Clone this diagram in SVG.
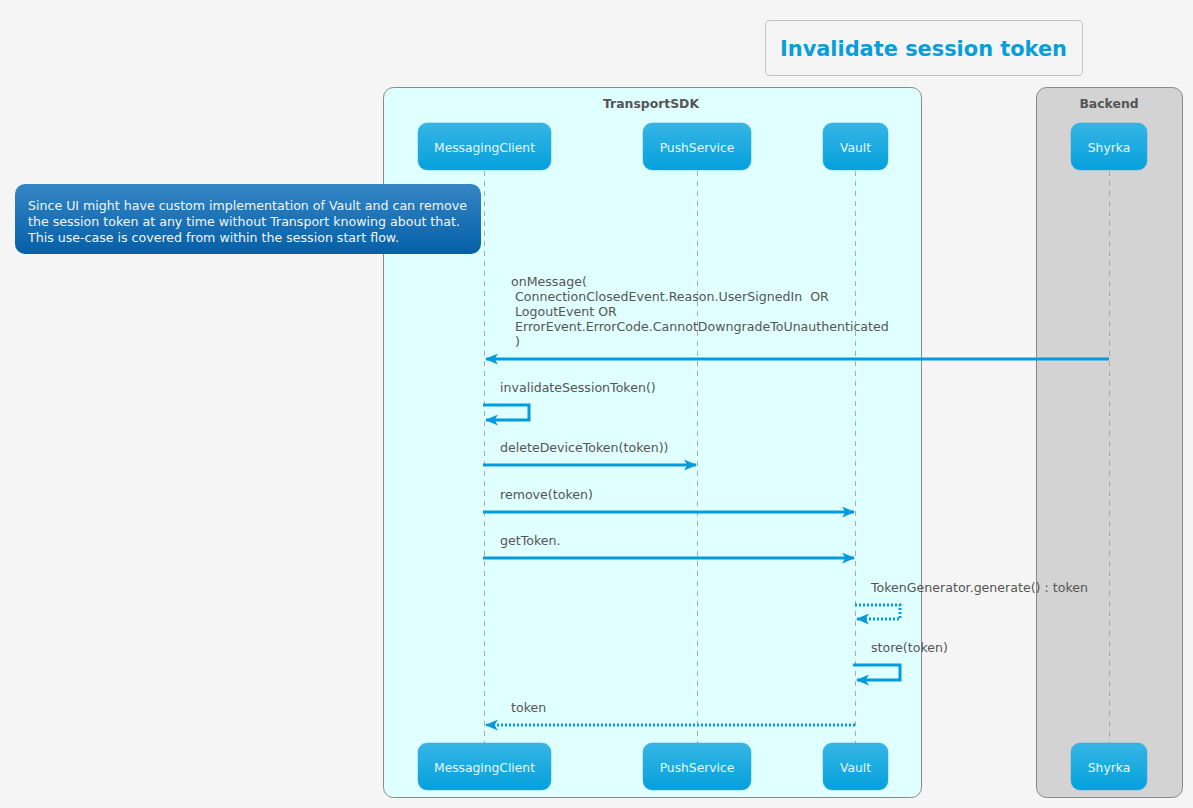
<svg xmlns="http://www.w3.org/2000/svg" width="1193" height="808" viewBox="0 0 1193 808">
<defs>
<linearGradient id="pg" x1="0" y1="0" x2="0" y2="1"><stop offset="0" stop-color="#36B5E5"/><stop offset="1" stop-color="#05A0DC"/></linearGradient>
<linearGradient id="ng" x1="0" y1="0" x2="0" y2="1"><stop offset="0" stop-color="#3586C4"/><stop offset="1" stop-color="#055FA7"/></linearGradient>
<marker id="ah" viewBox="0 0 12 10" refX="11" refY="5" markerWidth="13" markerHeight="11" markerUnits="userSpaceOnUse" orient="auto"><path d="M0,0 L12,5 L0,10 L3,5 Z" fill="#039BDC"/></marker>
<style>
text{font-family:"DejaVu Sans","Liberation Sans",sans-serif}
.pt{fill:url(#pg);stroke:#2AA8DE;stroke-width:0.5}
.ptx{font-size:12.3px;fill:#E8F6FC;text-anchor:middle}
.ll{stroke:#aaa;stroke-dasharray:5,5;stroke-width:1}
.m{fill:#555;font-size:12.6px}
.a{stroke:#039BDC;stroke-width:3;fill:none}
.d{stroke-dasharray:2,2}
.gl{font-size:12.4px;font-weight:bold;fill:#555;text-anchor:middle}
</style>
</defs>
<rect width="1193" height="808" fill="#F5F5F5"/>
<g id="title"><rect x="765.5" y="20.5" width="317" height="55" rx="4" fill="#F5F5F5" stroke="#C0C0C0"/><text x="923.5" y="56" text-anchor="middle" style="font-size:20.9px;font-weight:bold;fill:#0A9DDB">Invalidate session token</text></g>
<g id="TransportSDK"><rect x="383.5" y="87.5" width="538" height="710" rx="10" fill="#E0FFFF" stroke="#888"/><text class="gl" x="651" y="108">TransportSDK</text></g>
<g id="Backend"><rect x="1036.5" y="87.5" width="146" height="710" rx="10" fill="#D3D3D3" stroke="#888"/><text class="gl" x="1109" y="108">Backend</text></g>
<g id="lifelines">
<line class="ll" x1="484.5" y1="171" x2="484.5" y2="743"/>
<line class="ll" x1="697.5" y1="171" x2="697.5" y2="743"/>
<line class="ll" x1="855.5" y1="171" x2="855.5" y2="743"/>
<line class="ll" x1="1109.5" y1="171" x2="1109.5" y2="743"/>
</g>
<g id="MessagingClient"><rect class="pt" x="418" y="123" width="133" height="47" rx="9"/><text class="ptx" x="484.5" y="152">MessagingClient</text><rect class="pt" x="418" y="743" width="133" height="47" rx="9"/><text class="ptx" x="484.5" y="772">MessagingClient</text></g>
<g id="PushService"><rect class="pt" x="643" y="123" width="108" height="47" rx="9"/><text class="ptx" x="697" y="152">PushService</text><rect class="pt" x="643" y="743" width="108" height="47" rx="9"/><text class="ptx" x="697" y="772">PushService</text></g>
<g id="Vault"><rect class="pt" x="823" y="123" width="65" height="47" rx="9"/><text class="ptx" x="855.5" y="152">Vault</text><rect class="pt" x="823" y="743" width="65" height="47" rx="9"/><text class="ptx" x="855.5" y="772">Vault</text></g>
<g id="Shyrka"><rect class="pt" x="1071" y="123" width="76" height="47" rx="9"/><text class="ptx" x="1109" y="152">Shyrka</text><rect class="pt" x="1071" y="743" width="76" height="47" rx="9"/><text class="ptx" x="1109" y="772">Shyrka</text></g>
<g id="note"><rect x="15" y="184" width="466" height="70" rx="10" fill="url(#ng)"/><text style="font-size:12.6px;fill:#F0F6FB"><tspan x="28" y="210">Since UI might have custom implementation of Vault and can remove</tspan><tspan x="28" y="226">the session token at any time without Transport knowing about that.</tspan><tspan x="28" y="242">This use-case is covered from within the session start flow.</tspan></text></g>
<g id="connectors">
<text class="m" xml:space="preserve"><tspan x="511" y="286">onMessage(</tspan><tspan x="511" y="301"> ConnectionClosedEvent.Reason.UserSignedIn  OR</tspan><tspan x="511" y="316"> LogoutEvent OR</tspan><tspan x="511" y="331"> ErrorEvent.ErrorCode.CannotDowngradeToUnauthenticated</tspan><tspan x="511" y="346"> )</tspan></text>
<line class="a" x1="1109" y1="359" x2="486" y2="359" marker-end="url(#ah)"/>
<text class="m" x="500" y="392">invalidateSessionToken()</text>
<polyline class="a" points="483,405 529,405 529,420 486,420" marker-end="url(#ah)"/>
<text class="m" x="500" y="452">deleteDeviceToken(token))</text>
<line class="a" x1="483" y1="465" x2="696" y2="465" marker-end="url(#ah)"/>
<text class="m" x="500" y="499">remove(token)</text>
<line class="a" x1="483" y1="512" x2="854" y2="512" marker-end="url(#ah)"/>
<text class="m" x="500" y="545">getToken.</text>
<line class="a" x1="483" y1="558" x2="854" y2="558" marker-end="url(#ah)"/>
<text class="m" x="871" y="592">TokenGenerator.generate() : token</text>
<polyline class="a d" points="855,605 900,605 900,619 857,619" marker-end="url(#ah)"/>
<text class="m" x="871" y="652">store(token)</text>
<polyline class="a" points="853,665 900,665 900,680 857,680" marker-end="url(#ah)"/>
<text class="m" x="511" y="712">token</text>
<line class="a d" x1="855" y1="725" x2="486" y2="725" marker-end="url(#ah)"/>
</g>
</svg>
